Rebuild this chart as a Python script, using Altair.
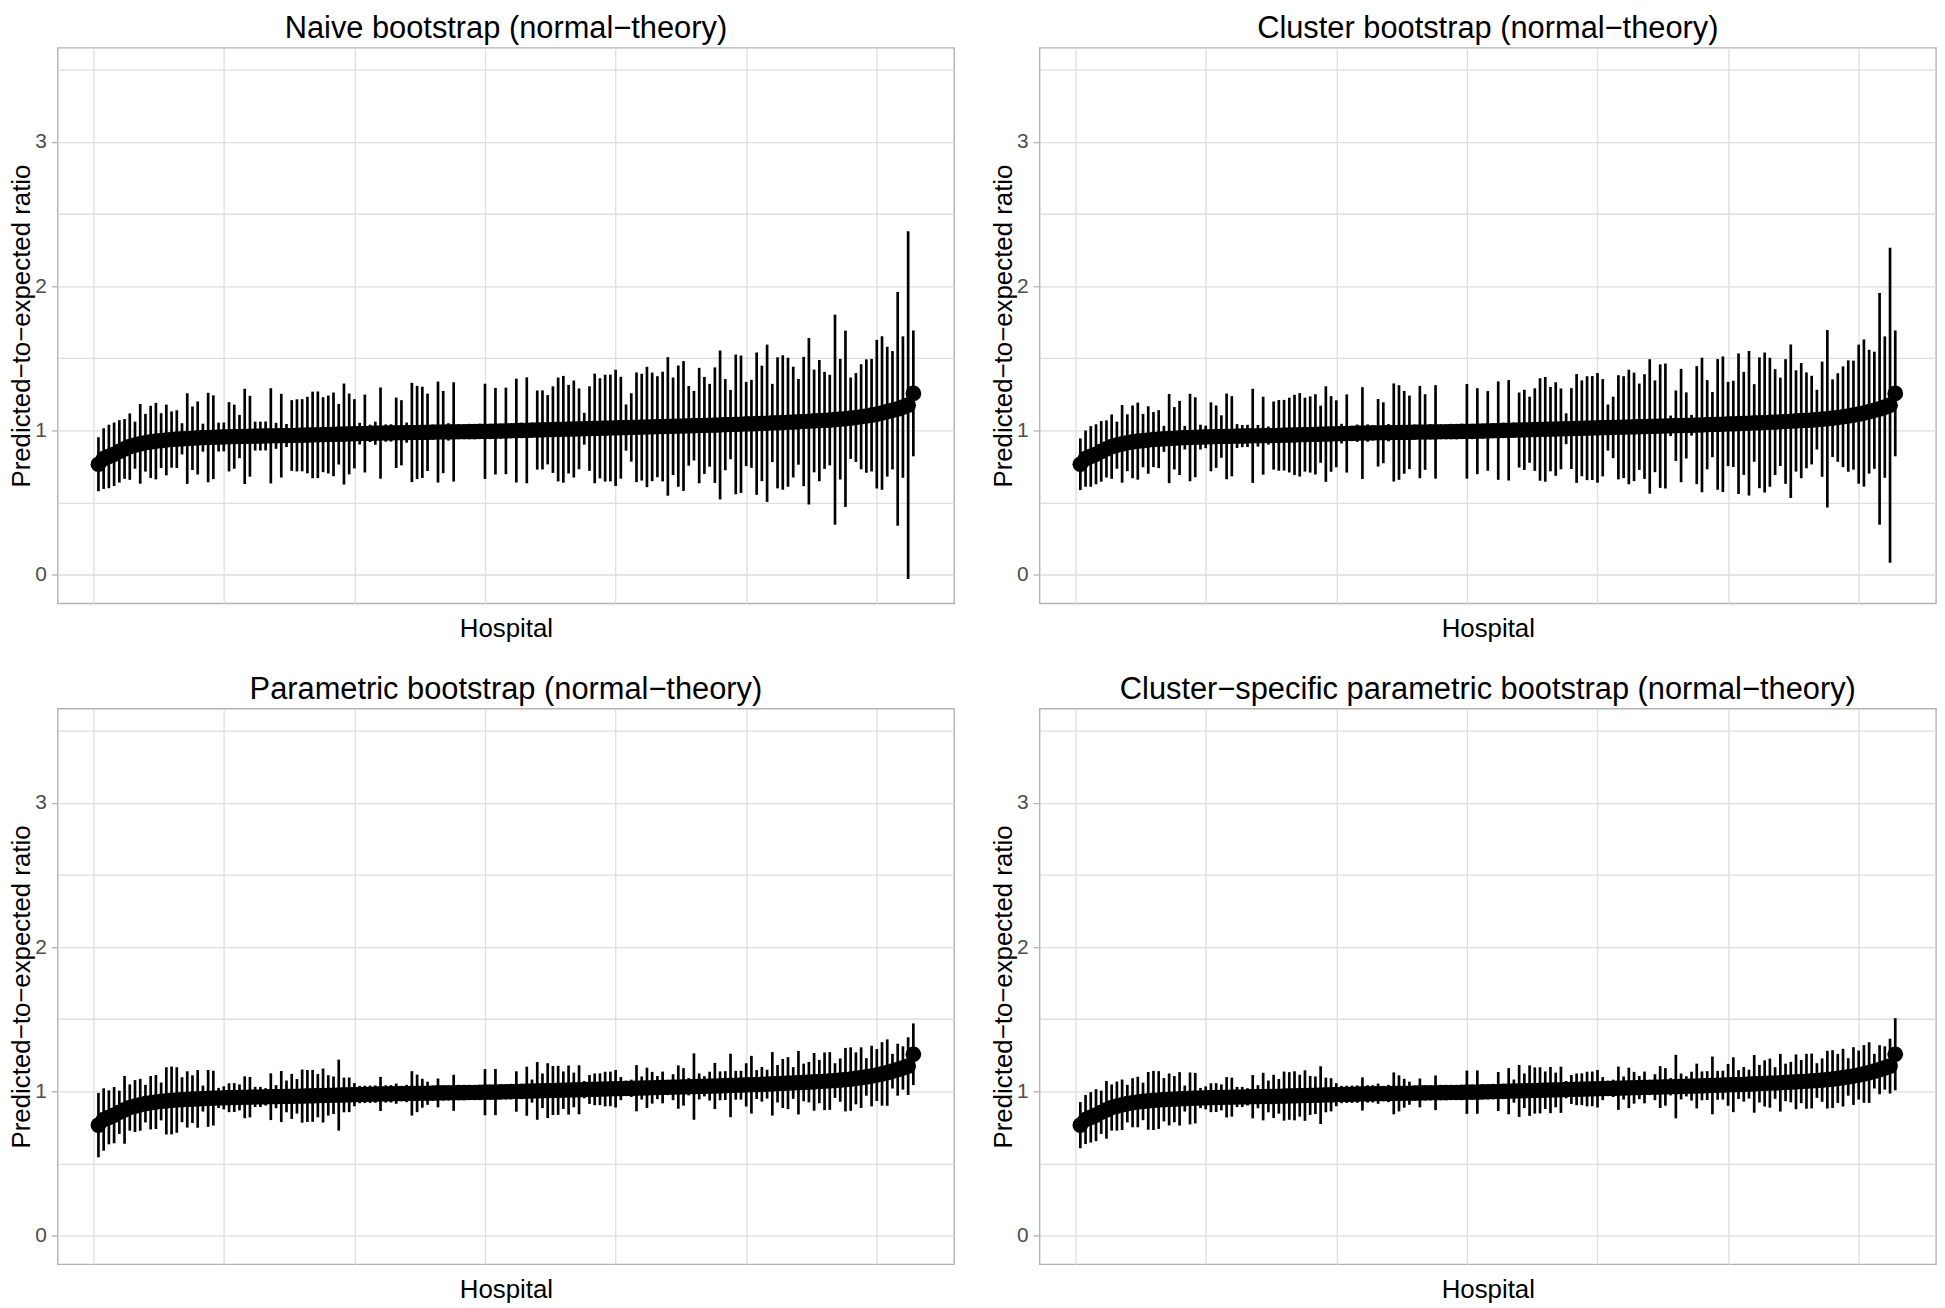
import altair as alt
import pandas as pd

FONT = "Liberation Sans"

panel_titles = [
    "Naive bootstrap (normal\u2212theory)",
    "Cluster bootstrap (normal\u2212theory)",
    "Parametric bootstrap (normal\u2212theory)",
    "Cluster\u2212specific parametric bootstrap (normal\u2212theory)",
]
x_title = "Hospital"
y_title = "Predicted\u2212to\u2212expected ratio"
y_tick_values = [0, 0.5, 1, 1.5, 2, 2.5, 3, 3.5]
x_grid_values = [0, 25, 50, 75, 100, 125, 150]

# hospital rank (1..157)
hospital = list(range(1, 158))

# point estimate (sorted), shared by all four panels
estimate = [
    .766, .805, .820, .835, .855, .872, .888, .898, .907, .915,
    .921, .926, .930, .934, .937, .940, .942, .944, .946, .948,
    .950, .951, .953, .954, .955, .956, .957, .958, .959, .960,
    .961, .961, .962, .963, .963, .964, .965, .965, .966, .967,
    .968, .969, .970, .971, .972, .973, .974, .975, .976, .977,
    .978, .979, .980, .981, .982, .982, .983, .984, .984, .985,
    .986, .986, .987, .987, .988, .989, .989, .990, .990, .991,
    .991, .992, .992, .993, .994, .994, .995, .996, .997, .998,
    .999, 1.000, 1.001, 1.002, 1.003, 1.004, 1.005, 1.006, 1.007, 1.008,
    1.009, 1.010, 1.011, 1.012, 1.013, 1.014, 1.015, 1.016, 1.017, 1.018,
    1.019, 1.020, 1.021, 1.022, 1.023, 1.024, 1.025, 1.026, 1.027, 1.028,
    1.029, 1.030, 1.031, 1.032, 1.033, 1.034, 1.035, 1.036, 1.037, 1.038,
    1.040, 1.041, 1.042, 1.043, 1.045, 1.046, 1.047, 1.049, 1.050, 1.052,
    1.053, 1.055, 1.057, 1.058, 1.060, 1.062, 1.064, 1.066, 1.068, 1.070,
    1.072, 1.075, 1.078, 1.081, 1.085, 1.090, 1.095, 1.100, 1.106, 1.113,
    1.121, 1.130, 1.140, 1.150, 1.162, 1.175, 1.257,
]

# half-widths of the normal-theory intervals, per method
hw_naive = [
    .187, .210, .220, .220, .216, .207, .230, .163, .276, .200,
    .250, .265, .190, .245, .195, .200, .108, .314, .220, .253,
    .097, .310, .290, .100, .100, .240, .222, .150, .330, .280,
    .100, .100, .100, .330, .090, .290, .080, .245, .250, .250,
    .265, .300, .300, .260, .270, .290, .210, .350, .280, .240,
    .075, .270, .060, .080, .316, .060, .060, .244, .226, .070,
    .344, .323, .316, .268, .050, .350, .285, .060, .344, .050,
    .050, .040, .050, .050, .330, .050, .300, .050, .300, .050,
    .360, .050, .367, .050, .274, .274, .240, .300, .360, .370,
    .307, .336, .280, .110, .293, .380, .347, .370, .370, .403,
    .353, .160, .237, .380, .370, .417, .376, .350, .380, .480,
    .338, .420, .450, .276, .241, .400, .336, .287, .400, .516,
    .316, .240, .484, .476, .292, .305, .493, .400, .545, .271,
    .454, .466, .447, .384, .297, .448, .577, .356, .420, .336,
    .314, .728, .418, .611, .282, .308, .364, .393, .390, .515,
    .532, .450, .410, .810, .490, 1.205, .436,
]
hw_cluster = [
    .179, .195, .210, .208, .210, .198, .223, .163, .269, .197,
    .252, .267, .185, .234, .191, .201, .090, .309, .216, .257,
    .082, .303, .277, .086, .078, .239, .216, .147, .297, .278,
    .083, .077, .077, .326, .075, .270, .063, .236, .245, .245,
    .259, .278, .289, .256, .264, .278, .198, .331, .262, .232,
    .068, .271, .050, .060, .318, .060, .050, .234, .211, .060,
    .340, .328, .287, .255, .050, .320, .262, .050, .324, .040,
    .040, .040, .050, .050, .328, .050, .298, .050, .276, .050,
    .341, .050, .348, .050, .260, .278, .229, .286, .355, .363,
    .292, .324, .280, .107, .280, .377, .332, .360, .360, .380,
    .337, .160, .213, .361, .353, .397, .376, .299, .363, .466,
    .318, .428, .433, .071, .244, .393, .229, .072, .409, .466,
    .309, .226, .453, .470, .292, .299, .487, .357, .501, .269,
    .453, .485, .447, .367, .306, .432, .532, .351, .399, .332,
    .307, .207, .399, .615, .269, .307, .349, .386, .378, .482,
    .510, .429, .406, .803, .490, 1.092, .436,
]
hw_param = [
    .223, .216, .187, .195, .150, .235, .160, .180, .180, .130,
    .185, .187, .131, .233, .235, .227, .156, .195, .165, .200,
    .090, .197, .190, .070, .080, .100, .100, .090, .145, .140,
    .070, .070, .060, .162, .080, .177, .110, .156, .120, .184,
    .180, .180, .150, .187, .140, .130, .246, .120, .120, .080,
    .060, .060, .060, .060, .118, .060, .060, .070, .050, .060,
    .154, .130, .100, .080, .050, .100, .050, .040, .125, .040,
    .040, .040, .040, .040, .160, .040, .160, .050, .050, .050,
    .140, .050, .170, .080, .200, .120, .190, .170, .170, .130,
    .170, .120, .170, .060, .100, .110, .110, .120, .120, .130,
    .080, .040, .060, .160, .080, .140, .110, .080, .110, .040,
    .090, .150, .130, .060, .230, .090, .070, .100, .160, .100,
    .100, .220, .100, .100, .150, .200, .100, .120, .100, .220,
    .130, .170, .180, .110, .220, .130, .140, .200, .150, .200,
    .200, .120, .150, .220, .220, .180, .210, .130, .210, .180,
    .220, .230, .120, .180, .150, .200, .214,
]
hw_cs_param = [
    .160, .170, .175, .180, .150, .200, .160, .170, .175, .130,
    .170, .175, .130, .200, .205, .200, .150, .180, .160, .185,
    .090, .180, .175, .070, .080, .100, .100, .090, .140, .135,
    .070, .070, .060, .150, .080, .165, .110, .150, .120, .170,
    .165, .170, .145, .175, .135, .130, .200, .120, .115, .080,
    .060, .060, .060, .060, .115, .060, .060, .070, .050, .060,
    .145, .125, .100, .080, .050, .100, .050, .040, .120, .040,
    .040, .040, .040, .040, .150, .040, .150, .050, .050, .050,
    .135, .050, .160, .080, .180, .120, .175, .160, .160, .130,
    .160, .120, .160, .060, .100, .110, .110, .120, .120, .130,
    .080, .040, .060, .150, .080, .140, .110, .080, .110, .040,
    .090, .145, .130, .060, .220, .090, .070, .100, .155, .100,
    .100, .200, .100, .100, .145, .190, .100, .120, .100, .200,
    .130, .160, .170, .110, .200, .130, .140, .190, .150, .190,
    .190, .120, .150, .200, .200, .170, .200, .130, .200, .170,
    .200, .210, .120, .170, .150, .190, .250,
]

half_widths = [hw_naive, hw_cluster, hw_param, hw_cs_param]

PANEL_W = 902
PANEL_H = 559
GRID = "#DEDEDE"
BORDER = "#B3B3B3"


def panel(title, hw):
    df = pd.DataFrame({
        "hospital": hospital,
        "est": estimate,
        "lo": [e - h for e, h in zip(estimate, hw)],
        "hi": [e + h for e, h in zip(estimate, hw)],
    })
    xscale = alt.Scale(domain=[-6.8, 164.8], nice=False, zero=False)
    xaxis = alt.Axis(
        values=x_grid_values, labels=False, ticks=False, domain=False,
        grid=True, gridColor=GRID, gridWidth=1.3,
        title=x_title, titleFont=FONT, titleFontSize=26,
        titleFontWeight="normal", titleColor="black", titlePadding=12,
    )
    yscale = alt.Scale(domain=[-0.198, 3.652], nice=False, zero=False)
    yaxis = alt.Axis(
        values=y_tick_values,
        labelExpr="datum.value % 1 === 0 ? format(datum.value, 'd') : ''",
        labelFont=FONT, labelFontSize=21, labelColor="#4D4D4D", labelPadding=5,
        tickSize=6.5, tickWidth=1.3,
        tickColor={"condition": {"test": "datum.value % 1 === 0", "value": BORDER},
                   "value": "rgba(0,0,0,0)"},
        domain=False, grid=True, gridColor=GRID, gridWidth=1.3,
        title=y_title, titleFont=FONT, titleFontSize=26,
        titleFontWeight="normal", titleColor="black", titlePadding=0,
    )
    bars = alt.Chart(df).mark_rule(color="black", strokeWidth=2.7).encode(
        x=alt.X("hospital:Q", scale=xscale, axis=xaxis),
        y=alt.Y("lo:Q", scale=yscale, axis=yaxis),
        y2="hi:Q",
    )
    pts = alt.Chart(df).mark_circle(color="black", opacity=1, size=250).encode(
        x=alt.X("hospital:Q", scale=xscale, axis=xaxis),
        y=alt.Y("est:Q", scale=yscale, axis=yaxis),
    )
    return alt.layer(bars, pts).properties(
        width=PANEL_W, height=PANEL_H,
        title=alt.TitleParams(title, font=FONT, fontSize=31, fontWeight="normal",
                              color="black", anchor="middle", offset=3),
    )


panels = [panel(t, h) for t, h in zip(panel_titles, half_widths)]

chart = alt.vconcat(
    alt.hconcat(panels[0], panels[1], spacing=35),
    alt.hconcat(panels[2], panels[3], spacing=35),
    spacing=31,
).properties(
    padding=0,
    background="white",
).configure_view(stroke=BORDER, strokeWidth=1.4)

chart.save("out.html", embed_options={"renderer": "svg", "actions": False})
